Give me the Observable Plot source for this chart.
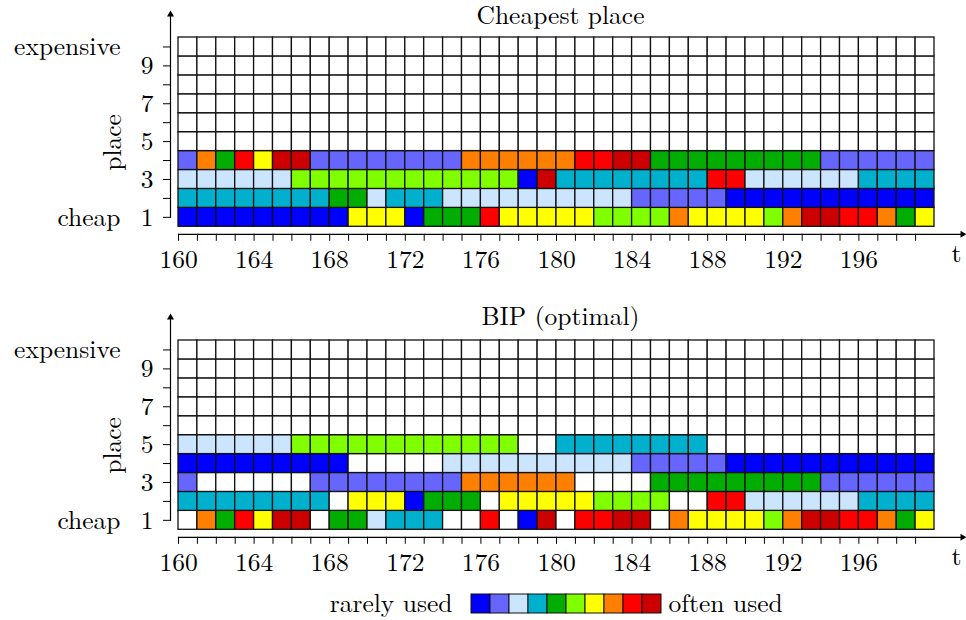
<!DOCTYPE html>
<html>
<head>
<meta charset="utf-8">
<script src="https://cdn.jsdelivr.net/npm/d3@7"></script>
<script src="https://cdn.jsdelivr.net/npm/@observablehq/plot@0.6"></script>
<style>
  html, body { margin: 0; padding: 0; background: #fff; }
  #chart svg { display: block; overflow: visible; }
</style>
</head>
<body>
<div id="chart"></div>
<script>
// ---------------- data ----------------
// time steps (columns) and places (rows)
const times = d3.range(160, 200);
const places = [1, 2, 3, 4, 5, 6, 7, 8, 9, 10];
const xTickLabels = [160, 164, 168, 172, 176, 180, 184, 188, 192, 196];
const yTickLabels = [1, 3, 5, 7, 9];

// usage levels: 0 = rarely used ... 9 = often used, "." = place not used
const levels = ["0", "1", "2", "3", "4", "5", "6", "7", "8", "9"];
const palette = ["#0000ff", "#6666ff", "#cce5ff", "#00b0cc", "#00ad00",
                 "#80ff00", "#ffff00", "#ff8000", "#ff0000", "#cc0000"];

// "Cheapest place": one string per place (row 1 = cheap), one char per t = 160..199
const cheapestRows = [
  "000000000 666 0 444 8 66666 5555 7 6666 5 7 99 88 7 4 6",
  "33333333 44 2 333 2222222222 11111 00000000000",
  "222222 555555555555 0 9 33333333 88 222222 3333",
  "1 7 4 8 6 99 11111111 777777 88 99 444444444 111111"
];

// "BIP (optimal)"
const bipRows = [
  ". 7 4 8 6 99 . 44 2 333 .. 8 . 0 9 . 88 99 . 7 6666 5 7 99 88 7 4 6",
  "33333333 . 666 0 444 . 66666 5555 .. 88 222222 3333",
  "1 ...... 11111111 777777 .... 444444444 111111",
  "000000000 ..... 2222222222 11111 00000000000",
  "222222 555555555555 .. 33333333 ............"
];

function toTable(rows) {
  const out = [];
  for (const p of places) {
    const codes = rows[p - 1] ? rows[p - 1].replace(/ /g, "").split("") : [];
    times.forEach((t, i) => {
      const c = codes[i];
      out.push({t, place: p, level: c && c !== "." ? c : null});
    });
  }
  return out;
}

const FONT = "'Latin Modern Roman', 'Liberation Serif', serif";
const FS = 25.5;

function applyFont(svg) {
  svg.style.setProperty("font-family", FONT, "important");
  svg.style.setProperty("font-size", FS + "px", "important");
  svg.querySelectorAll("text, g").forEach(el => {
    el.style.setProperty("font-family", FONT, "important");
  });
  return svg;
}

function makeChart(rows, title, height, marginTop, marginBottom, titleDy) {
  const data = toTable(rows);
  const svg = Plot.plot({
    width: 966,
    height,
    marginLeft: 170,
    marginRight: 32,
    marginTop,
    marginBottom,
    style: {fontSize: FS + "px", color: "black", background: "white", overflow: "visible"},
    x: {
      type: "linear",
      domain: [160, 200],
      insetLeft: 8,
      ticks: times,
      tickSize: 7,
      tickPadding: 9,
      tickFormat: d => xTickLabels.includes(d) ? String(d) : "",
      label: null
    },
    y: {
      type: "linear",
      domain: [0.5, 10.5],
      insetBottom: 7.5,
      ticks: places,
      tickSize: 7,
      tickPadding: 10,
      tickFormat: d => yTickLabels.includes(d) ? String(d) : "",
      label: null
    },
    color: {type: "ordinal", domain: levels, range: palette, unknown: "white"},
    marks: [
      Plot.rect(data, {
        x1: "t", x2: d => d.t + 1,
        y1: d => d.place - 0.5, y2: d => d.place + 0.5,
        fill: "level", stroke: "#111", strokeWidth: 1.3
      }),
      // axis lines with arrow heads
      Plot.frame({anchor: "bottom", insetLeft: 8, insetRight: -28, stroke: "black", strokeWidth: 1.2}),
      Plot.frame({anchor: "left", insetTop: -25, insetBottom: 17, stroke: "black", strokeWidth: 1.2}),
      Plot.dot([0], {frameAnchor: "bottom-right", dx: 28, symbol: "triangle", rotate: 90, r: 2.6, fill: "black", stroke: "none"}),
      Plot.dot([0], {frameAnchor: "top-left", dy: -23, symbol: "triangle", r: 2.6, fill: "black", stroke: "none"}),
      // title and labels
      Plot.text([title], {text: d => d, frameAnchor: "top", dx: 8, dy: titleDy, lineAnchor: "bottom", fontSize: FS}),
      Plot.text(["place"], {text: d => d, frameAnchor: "left", dx: -58, dy: 6.5, rotate: -90, textAnchor: "middle", lineAnchor: "middle", fontSize: FS}),
      Plot.text([{place: 1, label: "cheap"}, {place: 10, label: "expensive"}], {
        y: "place", text: "label", frameAnchor: "left", dx: -50, textAnchor: "end", fontSize: FS
      }),
      Plot.text(["t"], {text: d => d, frameAnchor: "bottom-right", dx: 22, dy: 28, lineAnchor: "bottom", textAnchor: "middle", fontSize: FS})
    ]
  });
  return applyFont(svg);
}

function makeLegend() {
  const svg = Plot.plot({
    width: 966,
    height: 37,
    marginLeft: 471,
    marginRight: 305,
    marginTop: 11,
    marginBottom: 7,
    style: {fontSize: FS + "px", color: "black", background: "white"},
    x: {type: "band", domain: levels, padding: 0, axis: null},
    color: {type: "ordinal", domain: levels, range: palette},
    marks: [
      Plot.cell(levels, {x: d => d, fill: d => d, stroke: "#111", strokeWidth: 1}),
      Plot.text(["rarely used"], {text: d => d, frameAnchor: "left", dx: -19, textAnchor: "end", fontSize: FS}),
      Plot.text(["often used"], {text: d => d, frameAnchor: "right", dx: 7, textAnchor: "start", fontSize: FS})
    ]
  });
  return applyFont(svg);
}

const root = document.getElementById("chart");
root.appendChild(makeChart(cheapestRows, "Cheapest place", 290, 37, 56.2, -13.5));
root.appendChild(makeChart(bipRows, "BIP (optimal)", 293, 50, 46.2, -15.5));
root.appendChild(makeLegend());
</script>
</body>
</html>
